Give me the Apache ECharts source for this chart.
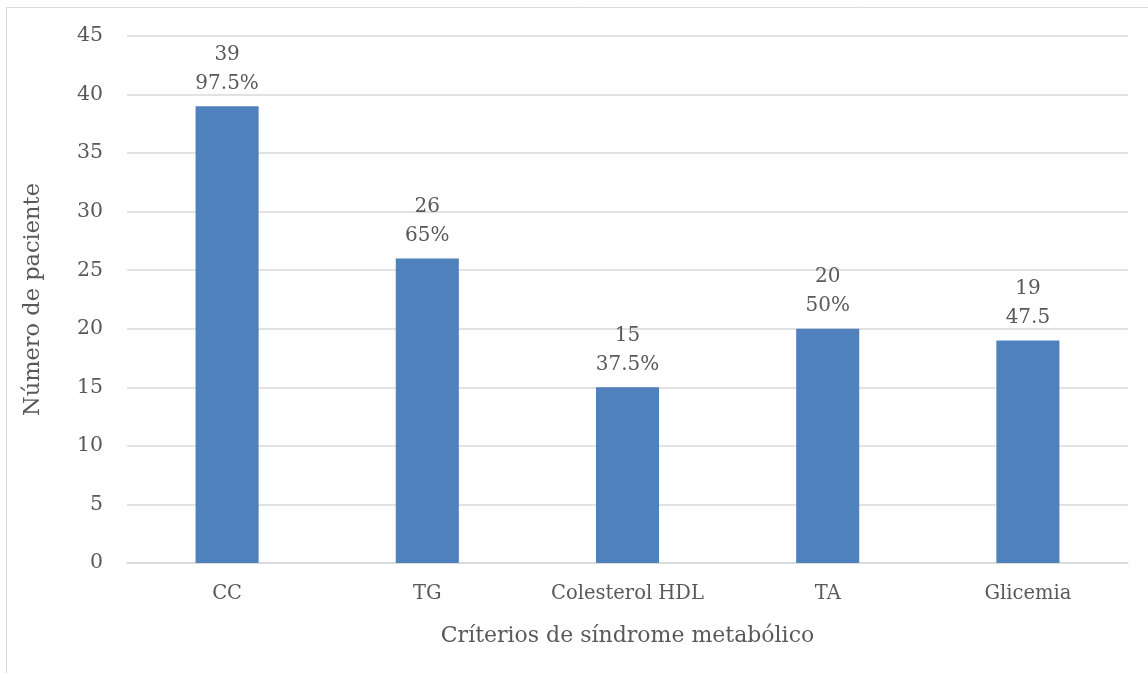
<!DOCTYPE html>
<html>
<head>
<meta charset="utf-8">
<script src="https://cdn.jsdelivr.net/npm/echarts@6/dist/echarts.min.js"></script>
<style>
  html, body { margin: 0; padding: 0; background: #ffffff; }
  #chart { width: 1148px; height: 673px; }
</style>
</head>
<body>
<div id="chart"></div>
<script>
// Criteria of metabolic syndrome: patient counts and label texts
const categories = ['CC', 'TG', 'Colesterol HDL', 'TA', 'Glicemia'];
const patients = [39, 26, 15, 20, 19];
const shareLabels = ['97.5%', '65%', '37.5%', '50%', '47.5'];
const yTicks = [0, 5, 10, 15, 20, 25, 30, 35, 40, 45];

const FONT = 'DejaVu Serif';
const TEXT = '#595959';

const chart = echarts.init(document.getElementById('chart'), null, { renderer: 'canvas' });

chart.setOption({
  animation: false,
  backgroundColor: '#ffffff',
  textStyle: { fontFamily: FONT },
  graphic: [{
    type: 'rect',
    shape: { x: 6.5, y: 7.5, width: 1300, height: 800 },
    style: { fill: 'none', stroke: '#d9d9d9', lineWidth: 1 },
    silent: true
  }],
  grid: { left: 127, right: 20, top: 36, bottom: 110, containLabel: false },
  xAxis: {
    type: 'category',
    data: categories,
    name: 'Críterios de síndrome metabólico',
    nameLocation: 'middle',
    nameGap: 62,
    nameTextStyle: { color: TEXT, fontSize: 22, fontFamily: FONT },
    axisLine: { show: true, lineStyle: { color: '#d9d9d9', width: 1.5 } },
    axisTick: { show: false },
    axisLabel: { color: TEXT, fontSize: 19.5, fontFamily: FONT, margin: 21 }
  },
  yAxis: {
    type: 'value',
    min: yTicks[0],
    max: yTicks[yTicks.length - 1],
    interval: 5,
    name: 'Número de paciente',
    nameLocation: 'middle',
    nameGap: 82,
    nameTextStyle: { color: TEXT, fontSize: 22.5, fontFamily: FONT },
    axisLine: { show: false },
    axisTick: { show: false },
    axisLabel: { color: TEXT, fontSize: 20.5, fontFamily: FONT, margin: 24 },
    splitLine: { lineStyle: { color: '#d9d9d9', width: 1.5 } }
  },
  series: [{
    type: 'bar',
    data: patients,
    barWidth: '31.5%',
    itemStyle: { color: '#4f81bd' },
    label: {
      show: true,
      position: 'top',
      distance: 8,
      color: TEXT,
      fontSize: 20,
      fontFamily: FONT,
      lineHeight: 29,
      align: 'center',
      formatter: p => p.value + '\n' + shareLabels[p.dataIndex]
    }
  }]
});
</script>
</body>
</html>
